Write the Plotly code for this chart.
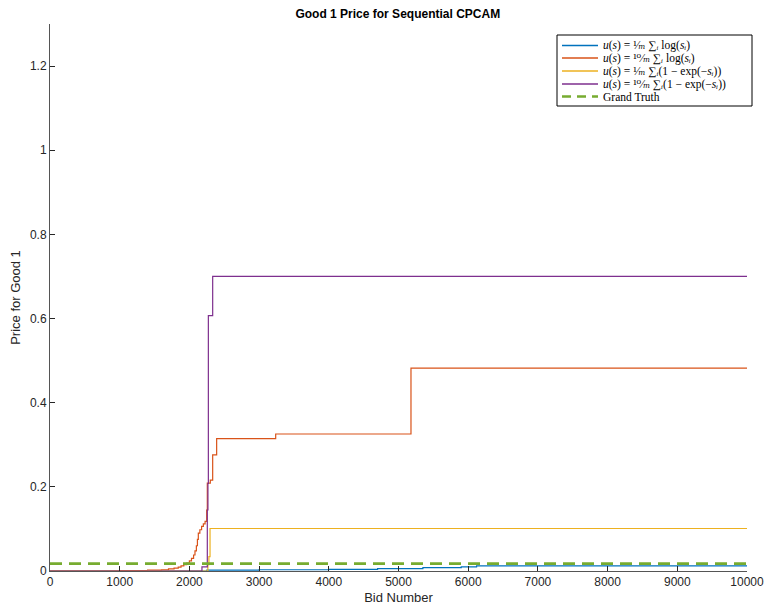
import plotly.graph_objects as go

# ---- data ----
blue_x = [0, 2250, 3000, 4000, 4700, 5350, 5900, 6120, 10000]
blue_y = [0, 0.002, 0.003, 0.004, 0.0055, 0.008, 0.010, 0.012, 0.012]

orange_x = [0, 1000, 1400, 1600, 1700, 1780, 1840, 1880, 1920, 1960, 2000, 2030, 2060, 2080,
            2100, 2115, 2128, 2150, 2175, 2200, 2225, 2248, 2257, 2300, 2334, 2391, 3238, 5179, 10000]
orange_y = [0, 0.001, 0.002, 0.003, 0.005, 0.007, 0.009, 0.012, 0.015, 0.019, 0.024, 0.030, 0.038, 0.048,
            0.060, 0.075, 0.090, 0.098, 0.106, 0.112, 0.118, 0.145, 0.209, 0.216, 0.276, 0.3145, 0.3256, 0.482, 0.482]

yellow_x = [0, 2265, 2280, 2296, 10000]
yellow_y = [0, 0.015, 0.034, 0.101, 0.101]

purple_x = [0, 2180, 2257, 2266, 2272, 2334, 10000]
purple_y = [0, 0.010, 0.145, 0.208, 0.607, 0.700, 0.700]

truth_x = [0, 10000]
truth_y = [0.0175, 0.0175]

names = [
    "<i>u</i>(<i>s</i>) = ¹⁄<i>ₘ</i> ∑<i>ᵢ</i> log(<i>s</i><i>ᵢ</i>)",
    "<i>u</i>(<i>s</i>) = ¹⁰⁄<i>ₘ</i> ∑<i>ᵢ</i> log(<i>s</i><i>ᵢ</i>)",
    "<i>u</i>(<i>s</i>) = ¹⁄<i>ₘ</i> ∑<i>ᵢ</i>(1 − exp(−<i>s</i><i>ᵢ</i>))",
    "<i>u</i>(<i>s</i>) = ¹⁰⁄<i>ₘ</i> ∑<i>ᵢ</i>(1 − exp(−<i>s</i><i>ᵢ</i>))",
    "Grand Truth",
]
colors = ["#0072BD", "#D95319", "#EDB120", "#7E2F8E", "#77AC30"]
widths = [1.3, 1.3, 1.3, 1.3, 2.6]
dashes = ["solid", "solid", "solid", "solid", "9px,6px"]

fig = go.Figure()
series = [(blue_x, blue_y), (orange_x, orange_y), (yellow_x, yellow_y), (purple_x, purple_y)]
for (xs, ys), nm, c in zip(series, names[:4], colors[:4]):
    fig.add_trace(go.Scatter(x=xs, y=ys, mode="lines", name=nm, showlegend=False,
                             line=dict(color=c, width=1.2, shape="hv")))
fig.add_trace(go.Scatter(x=truth_x, y=truth_y, mode="lines", name=names[4], showlegend=False,
                         line=dict(color=colors[4], width=2.6, dash="12px,7px")))

# ---- compact legend box (MATLAB style), in paper coordinates ----
W, H = 765, 611
ML, MR, MT, MB = 50, 18, 24, 40
pw, ph = W - ML - MR, H - MT - MB
px = lambda v: (v - ML) / pw
py = lambda v: (H - MB - v) / ph

fig.add_shape(type="rect", xref="paper", yref="paper",
              x0=px(557), x1=px(752), y0=py(106), y1=py(35),
              line=dict(color="black", width=1), fillcolor="white", layer="above")
row_y = [45.5, 58, 71, 84, 96.5]
for nm, c, w, d, ry in zip(names, colors, widths, dashes, row_y):
    fig.add_shape(type="line", xref="paper", yref="paper",
                  x0=px(562), x1=px(598), y0=py(ry), y1=py(ry),
                  line=dict(color=c, width=w, dash=d), layer="above")
    fig.add_annotation(xref="paper", yref="paper", x=px(601), y=py(ry),
                       xanchor="left", yanchor="middle", showarrow=False, text=nm,
                       font=dict(family="Liberation Serif, DejaVu Serif, serif", size=11.5, color="black"))

axis_common = dict(
    showline=True, linecolor="#555555", linewidth=1, mirror=False,
    ticks="inside", ticklen=5, tickcolor="#262626", tickwidth=1,
    showgrid=False, zeroline=False, automargin=False,
    tickfont=dict(family="Liberation Sans, Arial, sans-serif", size=12, color="#262626"),
)

fig.update_layout(
    width=W, height=H,
    margin=dict(l=ML, r=MR, t=MT, b=MB),
    paper_bgcolor="white", plot_bgcolor="white",
    title=dict(text="<b>Good 1 Price for Sequential CPCAM</b>", x=0.52, xanchor="center",
               y=0.985, yanchor="top",
               font=dict(family="Liberation Sans, Arial, sans-serif", size=12, color="black")),
    xaxis=dict(range=[0, 10000], tickvals=list(range(0, 10001, 1000)), tickformat="d",
               title=dict(text="Bid Number", standoff=4,
                          font=dict(family="Liberation Sans, Arial, sans-serif", size=13, color="#262626")),
               **axis_common),
    yaxis=dict(range=[0, 1.3], tickvals=[0, 0.2, 0.4, 0.6, 0.8, 1, 1.2],
               ticktext=["0", "0.2", "0.4", "0.6", "0.8", "1", "1.2"],
               title=dict(text="Price for Good 1", standoff=6,
                          font=dict(family="Liberation Sans, Arial, sans-serif", size=13, color="#262626")),
               **axis_common),
    showlegend=False,
)

fig.write_html("out.html")
